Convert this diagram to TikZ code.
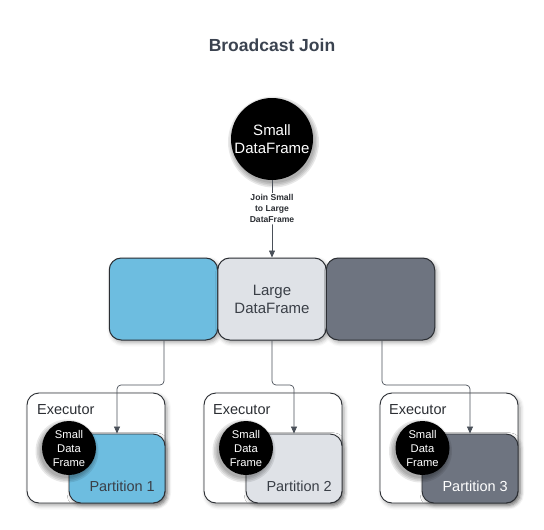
\documentclass[tikz,border=0pt]{standalone}
\usepackage{fontspec}
\setmainfont{Liberation Sans}
\usetikzlibrary{arrows.meta,shadows.blur,positioning,calc}
\definecolor{pblue}{HTML}{6DBDE0}
\definecolor{plight}{HTML}{DFE2E7}
\definecolor{pdark}{HTML}{6E7480}
\definecolor{edgec}{HTML}{2B2E33}
\definecolor{connc}{HTML}{4A5059}
\definecolor{titlec}{HTML}{3B4350}
\definecolor{txtc}{HTML}{3A3F47}
\tikzset{
  shad/.style={blur shadow={shadow xshift=2pt,shadow yshift=-2.5pt,shadow blur radius=4pt,shadow opacity=35}},
  bigbox/.style={draw=edgec,line width=1pt,rounded corners=12pt,minimum width=108.5pt,minimum height=82pt,inner sep=0pt,shad,align=center,font=\fontsize{15}{18}\selectfont,text=txtc},
  exbox/.style={draw=edgec,line width=0.9pt,rounded corners=12pt,fill=white,minimum width=138pt,minimum height=110pt,inner sep=0pt,shad},
  partbox/.style={draw=edgec,line width=0.9pt,rounded corners=12pt,minimum width=96pt,minimum height=69pt,inner sep=0pt,shad},
  smallc/.style={circle,fill=black,text=white,minimum size=54pt,inner sep=0pt,align=center,font=\fontsize{11.2}{14}\selectfont},
  softsh/.style={fill=black,opacity=0.09},
  conn/.style={draw=connc,line width=0.7pt,rounded corners=4pt,-{Triangle[length=7pt,width=6pt]}},
  exlbl/.style={anchor=west,font=\fontsize{14.5}{17}\selectfont,text=edgec,inner sep=0pt},
  partlbl/.style={anchor=east,font=\fontsize{14.5}{17}\selectfont,inner sep=0pt},
}
\begin{document}
\begin{tikzpicture}[x=1pt,y=-1pt]
\useasboundingbox (0,0) rectangle (544,530);
\node[font=\bfseries\fontsize{17.5}{20}\selectfont,text=titlec] (title) at (272,45) {Broadcast Join};
\coordinate (smallpos) at (272,139);
\foreach \r in {41,42.5,44,45.5} \fill[softsh] ($(smallpos)+(1.5,3)$) circle (\r pt);
\node[circle,fill=black,text=white,minimum size=82pt,inner sep=0pt,align=center,font=\fontsize{15}{18}\selectfont] (small) at (smallpos) {Small\\DataFrame};
% large dataframe
\node[bigbox,fill=pblue] (lblue) at (163.5,299) {};
\node[bigbox,fill=plight] (lmid) at (272,299) {Large\\DataFrame};
\node[bigbox,fill=pdark] (ldark) at (380.5,299) {};
\draw[conn] (small) -- node[pos=0.37,fill=white,text=edgec,font=\bfseries\fontsize{8.6}{11}\selectfont,align=center,inner sep=1.5pt] (jlbl) {Join Small\\to Large\\DataFrame} (lmid.north);
% executors
\node[exbox] (ex1) at (96,448) {};
\node[exbox] (ex2) at (273,448) {};
\node[exbox] (ex3) at (449,448) {};
\node[partbox,fill=pblue] (p1) at (117,468.5) {};
\node[partbox,fill=plight] (p2) at (294,468.5) {};
\node[partbox,fill=pdark] (p3) at (470,468.5) {};
\node[partlbl,text=txtc] (p1l) at (155,486) {Partition 1};
\node[partlbl,text=txtc] (p2l) at (332,486) {Partition 2};
\node[partlbl,text=white] (p3l) at (508,486) {Partition 3};
\coordinate (c1pos) at (69,448);
\coordinate (c2pos) at (246,448);
\coordinate (c3pos) at (422.5,448);
\foreach \cp in {c1pos,c2pos,c3pos}{
  \foreach \r in {27,28.5,30,31.5} \fill[softsh] ($(\cp)+(-2,3)$) circle (\r pt);
}
\node[smallc] (c1) at (c1pos) {Small\\Data\\Frame};
\node[smallc] (c2) at (c2pos) {Small\\Data\\Frame};
\node[smallc] (c3) at (c3pos) {Small\\Data\\Frame};
\node[exlbl] (e1) at (37,410) {Executor};
\node[exlbl] (e2) at (213,410) {Executor};
\node[exlbl] (e3) at (389,410) {Executor};
% connectors
\coordinate (k1) at (164,385);
\coordinate (k2) at (272,385);
\coordinate (k3) at (382,385);
\draw[conn] (lblue.south -| k1) -- (k1) -| (p1.north);
\draw[conn] (lmid.south) -- (k2) -| (p2.north);
\draw[conn] (ldark.south -| k3) -- (k3) -| (p3.north);
\end{tikzpicture}
\end{document}
